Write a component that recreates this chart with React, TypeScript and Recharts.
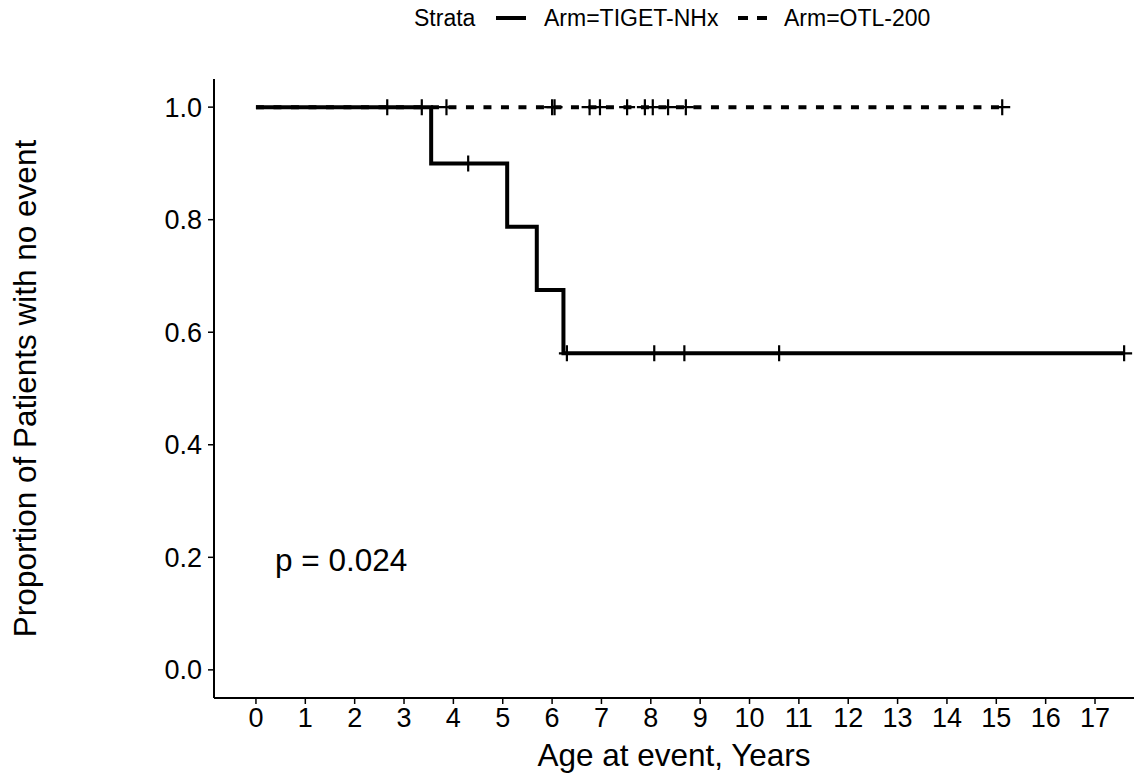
import { ComposedChart, Line, Scatter, XAxis, YAxis } from 'recharts';

// Arm=TIGET-NHx (solid) – KM steps and censor marks
const nhxTimes = [0, 3.55, 5.09, 5.69, 6.23, 17.59];
const nhxSurv = [1.0, 0.9, 0.7875, 0.675, 0.5625, 0.5625];
const nhxCensorTimes = [2.66, 3.36, 4.3, 6.3, 8.07, 8.68, 10.6, 17.59];
const nhxCensorSurv = [1.0, 1.0, 0.9, 0.5625, 0.5625, 0.5625, 0.5625, 0.5625];

// Arm=OTL-200 (dashed)
const otlTimes = [0, 15.12];
const otlSurv = [1.0, 1.0];
const otlCensorTimes = [3.86, 6.0, 6.05, 6.76, 6.97, 7.52, 7.88, 8.04, 8.35, 8.71, 15.12];
const otlCensorSurv = [1.0, 1.0, 1.0, 1.0, 1.0, 1.0, 1.0, 1.0, 1.0, 1.0, 1.0];

const xTicks = [0, 1, 2, 3, 4, 5, 6, 7, 8, 9, 10, 11, 12, 13, 14, 15, 16, 17];
const yTicks = [0, 0.2, 0.4, 0.6, 0.8, 1.0];
const pValueText = 'p = 0.024';

const FONT = '"Liberation Sans", Arial, sans-serif';

const toRows = (ts: number[], ss: number[]) => ts.map((t, i) => ({ t, s: ss[i] }));

const nhxLine = toRows(nhxTimes, nhxSurv);
const nhxCensor = toRows(nhxCensorTimes, nhxCensorSurv);
const otlLine = toRows(otlTimes, otlSurv);
const otlCensor = toRows(otlCensorTimes, otlCensorSurv);

function Cross(props: any) {
  const { cx, cy } = props;
  if (cx == null || cy == null) return null;
  return (
    <path
      d={`M${cx - 8},${cy}H${cx + 8}M${cx},${cy - 8}V${cy + 8}`}
      stroke="#000"
      strokeWidth={2.2}
      fill="none"
    />
  );
}

function YTitle(props: any) {
  const vb = props.viewBox || { x: 0, y: 79, height: 619 };
  const cy = vb.y + vb.height / 2;
  return (
    <text
      x={36}
      y={cy}
      transform={`rotate(-90, 36, ${cy})`}
      textAnchor="middle"
      fontSize={31.5}
      fontFamily={FONT}
      fill="#000"
    >
      Proportion of Patients with no event
    </text>
  );
}

export default function App() {
  return (
    <div style={{ position: 'absolute', left: 0, top: 0, width: 1134, height: 780, background: '#fff' }}>
      <ComposedChart width={1134} height={780} margin={{ top: 79, right: 0, bottom: 0, left: 0 }}>
        <XAxis
          type="number"
          dataKey="t"
          domain={[-0.85, 17.79]}
          allowDataOverflow
          ticks={xTicks}
          interval={0}
          height={82}
          tickSize={6}
          tickMargin={4}
          axisLine={{ stroke: '#000', strokeWidth: 2 }}
          tickLine={{ stroke: '#000', strokeWidth: 1.5 }}
          tick={{ fontSize: 27, fill: '#000', fontFamily: FONT }}
          label={{
            value: 'Age at event, Years',
            position: 'insideBottom',
            offset: 14,
            fontSize: 31.5,
            fill: '#000',
            fontFamily: FONT,
          }}
        />
        <YAxis
          type="number"
          dataKey="s"
          domain={[-0.05, 1.05]}
          allowDataOverflow
          ticks={yTicks}
          interval={0}
          width={214}
          tickSize={6}
          tickMargin={6}
          tickFormatter={(v: number) => v.toFixed(1)}
          axisLine={{ stroke: '#000', strokeWidth: 2 }}
          tickLine={{ stroke: '#000', strokeWidth: 1.5 }}
          tick={{ fontSize: 27, fill: '#000', fontFamily: FONT }}
          label={<YTitle />}
        />
        <Line
          data={otlLine}
          dataKey="s"
          type="stepAfter"
          stroke="#000"
          strokeWidth={4}
          strokeDasharray="8 9.5"
          dot={false}
          activeDot={false}
          isAnimationActive={false}
        />
        <Line
          data={nhxLine}
          dataKey="s"
          type="stepAfter"
          stroke="#000"
          strokeWidth={4}
          dot={false}
          activeDot={false}
          isAnimationActive={false}
        />
        <Scatter data={nhxCensor} dataKey="s" shape={<Cross />} isAnimationActive={false} />
        <Scatter data={otlCensor} dataKey="s" shape={<Cross />} isAnimationActive={false} />
      </ComposedChart>
      <svg
        width={1134}
        height={780}
        style={{ position: 'absolute', left: 0, top: 0, pointerEvents: 'none' }}
      >
        <g fontFamily={FONT} fill="#000">
          <text x={414} y={26} fontSize={23}>Strata</text>
          <line x1={496} x2={526} y1={18} y2={18} stroke="#000" strokeWidth={4} />
          <text x={544} y={26} fontSize={23}>Arm=TIGET-NHx</text>
          <line x1={738} x2={767} y1={18} y2={18} stroke="#000" strokeWidth={4} strokeDasharray="10 9" />
          <text x={784} y={26} fontSize={23}>Arm=OTL-200</text>
          <text x={275} y={571} fontSize={31.5}>{pValueText}</text>
        </g>
      </svg>
    </div>
  );
}
